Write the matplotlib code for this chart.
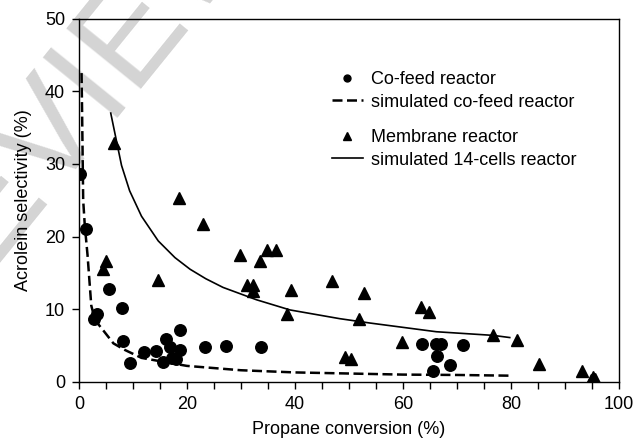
import matplotlib
matplotlib.use("Agg")
import matplotlib.pyplot as plt
from matplotlib.ticker import MultipleLocator

plt.rcParams['font.family'] = ['Liberation Sans', 'DejaVu Sans']

# Co-feed reactor (circles)
cofeed_x = [0.2, 1.4, 2.8, 3.4, 5.6, 7.9, 8.1, 9.4, 12.0, 14.2, 15.6, 16.2, 16.9,
            17.2, 18.0, 18.7, 18.8, 23.3, 27.2, 33.8, 63.5, 66.2, 67.1, 71.1,
            66.4, 68.8, 65.5]
cofeed_y = [28.6, 21.0, 8.6, 9.3, 12.8, 10.2, 5.6, 2.6, 4.1, 4.3, 2.8, 5.9, 4.8,
            3.3, 3.2, 4.4, 7.1, 4.85, 4.9, 4.85, 5.2, 5.2, 5.2, 5.1,
            3.6, 2.3, 1.5]

# Membrane reactor (triangles)
membrane_x = [6.5, 4.5, 5.0, 14.6, 18.6, 23.0, 29.9, 33.6, 34.9, 36.5, 31.2, 32.3,
              32.3, 39.3, 38.6, 46.9, 52.8, 51.8, 49.3, 50.4, 63.3, 64.9, 59.8,
              76.7, 81.2, 85.3, 93.2, 94.8, 95.2, 95.5]
membrane_y = [32.9, 15.6, 16.6, 14.0, 25.3, 21.7, 17.4, 16.6, 18.1, 18.1, 13.4, 13.4,
              12.5, 12.6, 9.4, 13.9, 12.3, 8.7, 3.4, 3.1, 10.3, 9.6, 5.45,
              6.45, 5.7, 2.4, 1.5, 0.3, 0.7, 0.4]

# simulated co-feed reactor (dashed)
sim_cofeed_x = [0.5, 0.6, 0.8, 1.1, 1.6, 2.0, 2.3, 3.0, 4.5, 6.4, 8.5, 11.6, 15.0,
                20.0, 30.0, 40.0, 50.0, 60.0, 70.0, 80.0]
sim_cofeed_y = [42.5, 37.0, 25.0, 21.5, 17.5, 13.5, 10.5, 8.5, 7.1, 5.3, 4.4, 3.3, 2.85,
                2.2, 1.6, 1.3, 1.15, 1.0, 0.95, 0.85]

# simulated 14-cells reactor (solid)
sim_14_x = [5.9, 7.9, 9.4, 11.6, 14.7, 17.8, 20.6, 23.5, 26.7, 32.9, 39.1, 48.3,
            53.9, 66.2, 76.7, 79.8]
sim_14_y = [37.0, 29.8, 26.3, 22.8, 19.4, 17.1, 15.5, 14.2, 13.0, 11.3, 9.9, 8.7,
            8.1, 6.9, 6.4, 6.1]

fig = plt.figure(figsize=(6.36, 4.43), dpi=100)
ax = fig.add_axes([0.124, 0.138, 0.849, 0.82])
ax.patch.set_alpha(0)

# faint watermark, mostly off the canvas
fig.text(-0.115, 0.2325, 'REVIEW', fontsize=100, color='#d4d4d4', rotation=51,
         rotation_mode='anchor', ha='left', va='baseline', zorder=-5)

ax.plot(sim_cofeed_x, sim_cofeed_y, color='black', lw=1.8, dashes=(4, 1.8),
        label='simulated co-feed reactor', zorder=2)
ax.plot(sim_14_x, sim_14_y, color='black', lw=1.2,
        label='simulated 14-cells reactor', zorder=2)
ax.plot(cofeed_x, cofeed_y, 'o', color='black', ms=8.3,
        label='Co-feed reactor', zorder=3)
ax.plot(membrane_x, membrane_y, '^', color='black', ms=8.5,
        label='Membrane reactor', zorder=3)

ax.set_xlim(0, 100)
ax.set_ylim(0, 50)
ax.xaxis.set_major_locator(MultipleLocator(20))
ax.xaxis.set_minor_locator(MultipleLocator(5))
ax.yaxis.set_major_locator(MultipleLocator(10))
ax.tick_params(which='both', direction='out', length=5, width=1, labelsize=13, pad=5)
ax.tick_params(top=False, right=False)
for s in ax.spines.values():
    s.set_linewidth(1)

ax.set_xlabel('Propane conversion (%)', fontsize=13, labelpad=6)
ax.set_ylabel('Acrolein selectivity (%)', fontsize=13, labelpad=9)

h, l = ax.get_legend_handles_labels()
leg_kw = dict(loc='upper left', frameon=False, fontsize=13, handlelength=1.7,
              handletextpad=0.45, labelspacing=0.3, borderpad=0, borderaxespad=0,
              markerscale=0.6)
leg1 = ax.legend([h[2], h[0]], [l[2], l[0]], bbox_to_anchor=(0.4685, 0.855), **leg_kw)
ax.add_artist(leg1)
ax.legend([h[3], h[1]], [l[3], l[1]], bbox_to_anchor=(0.4685, 0.695), **leg_kw)

fig.savefig('out.png', dpi=100)
